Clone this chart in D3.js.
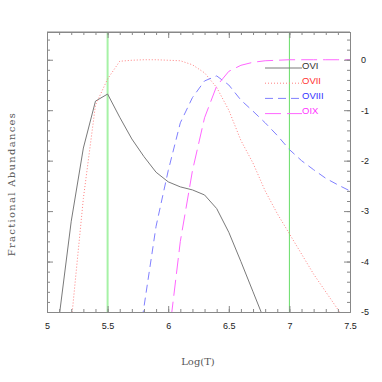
<!DOCTYPE html>
<html><head><meta charset="utf-8">
<script src="https://cdn.jsdelivr.net/npm/d3@7"></script>
<style>body{margin:0;background:#fff}svg{display:block}</style>
</head><body>
<svg id="c" width="382" height="382"></svg>
<script>
const logT = [5.0,5.1,5.2,5.3,5.4,5.5,5.6,5.7,5.8,5.9,6.0,6.1,6.2,6.3,6.4,6.5,6.6,6.7,6.8,6.9,7.0,7.1,7.2,7.3,7.4,7.5];
const OVI   = [-7.5,-5.1,-3.2,-1.75,-0.82,-0.68,-1.14,-1.57,-1.92,-2.23,-2.42,-2.52,-2.58,-2.68,-2.95,-3.42,-4.0,-4.6,-5.2,-6.0,-6.8,-7.5,-8.2,-8.9,-9.6,-10.2];
const OVII  = [-9.5,-7.5,-5.2,-2.75,-0.9,-0.38,-0.03,-0.01,0,0,-0.01,-0.02,-0.1,-0.26,-0.55,-1.0,-1.6,-2.05,-2.6,-3.05,-3.45,-3.85,-4.25,-4.6,-4.95,-5.3];
const OVIII = [-14,-12,-10.5,-9.5,-8.5,-7.5,-6.5,-6.5,-4.9,-3.3,-2.2,-1.25,-0.75,-0.42,-0.32,-0.5,-0.8,-1.02,-1.25,-1.5,-1.78,-2.0,-2.18,-2.35,-2.48,-2.6];
const OIX   = [-20,-18,-16,-14,-12.5,-11,-10,-9.5,-9.2,-9.0,-5.6,-3.6,-2.2,-1.15,-0.52,-0.23,-0.11,-0.05,-0.02,-0.01,0,0,0,0,0,0];
const seriesNames = ["OVI","OVII","OVIII","OIX"];
const xTickLabels = ["5","5.5","6","6.5","7","7.5"];
const yTickLabels = ["0","-1","-2","-3","-4","-5"];
const markers = [5.5, 7.0];

const svg = d3.select("#c");
const L=47,R=350,T=32,B=312;
const x = d3.scaleLinear().domain([5,7.5]).range([L,R]);
const y = d3.scaleLinear().domain([-5,0.55]).range([B,T]);

const styles = {
  OVI:{stroke:"#7a7a7a",dash:null,text:"#333"},
  OVII:{stroke:"#ff8080",dash:"1,2",text:"#ff3333"},
  OVIII:{stroke:"#8080ff",dash:"8,5",text:"#3333ff"},
  OIX:{stroke:"#ff66ff",dash:"16,6",text:"#ff33ff"}
};
const data = {OVI,OVII,OVIII,OIX};

svg.append("clipPath").attr("id","clip").append("rect").attr("x",L).attr("y",T).attr("width",R-L).attr("height",B-T);

// vertical markers
svg.append("line").attr("x1",x(markers[0])).attr("x2",x(markers[0])).attr("y1",T).attr("y2",B)
  .attr("stroke","#a6f2a6").attr("stroke-width",2);
svg.append("line").attr("x1",x(markers[1])).attr("x2",x(markers[1])).attr("y1",T).attr("y2",B)
  .attr("stroke","#66dd66").attr("stroke-width",1);

const line = d3.line().x((d,i)=>x(logT[i])).y(d=>y(d));
const g = svg.append("g").attr("clip-path","url(#clip)");
seriesNames.forEach(n=>{
  g.append("path").datum(data[n]).attr("d",line).attr("fill","none")
   .attr("stroke",styles[n].stroke).attr("stroke-width",1)
   .attr("stroke-dasharray",styles[n].dash);
});

// legend
seriesNames.forEach((n,i)=>{
  const yy = 68 + i*15.2;
  svg.append("line").attr("x1",265).attr("x2",302).attr("y1",yy).attr("y2",yy)
    .attr("stroke",styles[n].stroke).attr("stroke-dasharray",styles[n].dash);
  svg.append("text").attr("x",302).attr("y",yy+0.5).text(n).attr("fill",styles[n].text)
    .attr("font-family","Liberation Sans, Arial, sans-serif").attr("font-size",9.5);
});

// axes
const axColor="#888";
const xMinor = d3.range(5,7.5001,0.1).map(v=>+v.toFixed(2));
const xMajor = [5,5.5,6,6.5,7,7.5];
const yMinor = d3.range(-5,0.5001,0.2).map(v=>+v.toFixed(2));
const yMajor = [0,-1,-2,-3,-4,-5];

function styleAxis(sel){
  sel.select(".domain").attr("stroke",axColor);
  sel.selectAll(".tick line").attr("stroke",axColor);
}
const mk = (gen,tr)=>{const s=svg.append("g").attr("transform",tr).call(gen); styleAxis(s); return s;};
// bottom
mk(d3.axisBottom(x).tickValues(xMinor).tickSize(-3).tickSizeOuter(0).tickFormat(""),`translate(0,${B})`);
mk(d3.axisBottom(x).tickValues(xMajor).tickSize(-6).tickSizeOuter(0).tickFormat((d,i)=>xTickLabels[i]).tickPadding(11),`translate(0,${B})`);
// top
mk(d3.axisTop(x).tickValues(xMinor).tickSize(-3).tickSizeOuter(0).tickFormat(""),`translate(0,${T})`);
mk(d3.axisTop(x).tickValues(xMajor).tickSize(-6).tickSizeOuter(0).tickFormat(""),`translate(0,${T})`);
// left
mk(d3.axisLeft(y).tickValues(yMinor).tickSize(-3).tickSizeOuter(0).tickFormat(""),`translate(${L},0)`);
mk(d3.axisLeft(y).tickValues(yMajor).tickSize(-6).tickSizeOuter(0).tickFormat(""),`translate(${L},0)`);
// right
mk(d3.axisRight(y).tickValues(yMinor).tickSize(-3).tickSizeOuter(0).tickFormat(""),`translate(${R},0)`);
mk(d3.axisRight(y).tickValues(yMajor).tickSize(-6).tickSizeOuter(0).tickFormat((d,i)=>yTickLabels[i]).tickPadding(11),`translate(${R},0)`);
svg.append("line").attr("x1",L).attr("x2",R).attr("y1",T).attr("y2",T).attr("stroke",axColor);

svg.selectAll(".tick text").attr("font-family","Liberation Sans, Arial, sans-serif").attr("font-size",9).attr("fill","#222");

svg.append("text").attr("x",198).attr("y",365).attr("text-anchor","middle")
  .attr("font-family","DejaVu Serif, serif").attr("font-size",10).attr("fill","#555").text("Log(T)");
svg.append("text").attr("transform","translate(15,184) rotate(-90)").attr("text-anchor","middle")
  .attr("font-family","DejaVu Serif, serif").attr("font-size",10).attr("letter-spacing","1.3").attr("fill","#555").text("Fractional Abundances");
</script>
</body></html>
